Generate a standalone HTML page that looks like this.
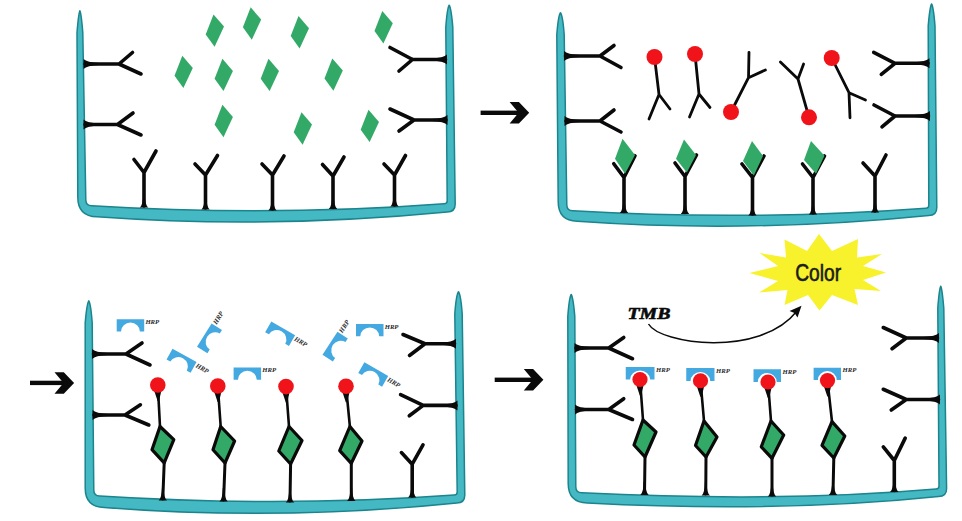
<!DOCTYPE html>
<html><head><meta charset="utf-8"><title>ELISA</title>
<style>
html,body{margin:0;padding:0;background:#fff;}
body{width:962px;height:521px;overflow:hidden;}
svg{display:block;}
.hrp{font-family:"Liberation Serif",serif;font-weight:bold;font-style:italic;font-size:6.7px;fill:#2a2a2a;}
.color{font-family:"Liberation Sans",sans-serif;font-size:24px;fill:#1a1a1a;stroke:#1a1a1a;stroke-width:0.6px;}
.tmb{font-family:"Liberation Serif",serif;font-weight:bold;font-style:italic;font-size:17px;fill:#0a0a0a;stroke:#0a0a0a;stroke-width:0.6px;}
</style></head><body>
<svg width="962" height="521" viewBox="0 0 962 521">
<rect width="962" height="521" fill="#ffffff"/>
<path d="M79.9,10.8 Q78.5,13.8 77.0,32.8 L77.8,197.2 Q77.8,216.2 96.8,216.8 Q270.0,229.3 447.2,212.1 Q455.2,212.1 455.2,204.1 L452.8,27.2 Q451.2,8.2 449.2,5.2 Q447.2,8.2 445.8,27.2 L447.2,200.8 Q447.2,203.8 444.2,203.8 Q270.0,216.8 91.8,205.8 Q85.8,205.8 85.8,199.8 L82.8,32.8 Q81.3,13.8 79.9,10.8 Z" fill="#44b8c3" stroke="#1c848d" stroke-width="1.5" stroke-linejoin="round"/>
<polygon points="213.5,14.4 224.0,26.6 214.6,46.8 205.7,34.4" fill="#33a968"/>
<polygon points="250.7,7.3 261.2,19.5 251.8,39.7 242.9,27.3" fill="#33a968"/>
<polygon points="298.5,16.0 309.0,28.2 299.6,48.4 290.7,36.0" fill="#33a968"/>
<polygon points="382.3,11.0 392.8,23.2 383.4,43.4 374.5,31.0" fill="#33a968"/>
<polygon points="182.3,55.7 192.8,67.9 183.4,88.1 174.5,75.7" fill="#33a968"/>
<polygon points="222.4,58.7 232.9,70.9 223.5,91.1 214.6,78.7" fill="#33a968"/>
<polygon points="268.5,58.7 279.0,70.9 269.6,91.1 260.7,78.7" fill="#33a968"/>
<polygon points="332.3,58.4 342.8,70.6 333.4,90.8 324.5,78.4" fill="#33a968"/>
<polygon points="222.4,104.8 232.9,117.0 223.5,137.2 214.6,124.8" fill="#33a968"/>
<polygon points="301.5,112.3 312.0,124.5 302.6,144.7 293.7,132.3" fill="#33a968"/>
<polygon points="368.5,109.7 379.0,121.9 369.6,142.1 360.7,129.7" fill="#33a968"/>
<path d="M85,64 L119,64 L132.5,52.5 M119,64 L141,74" fill="none" stroke="#0a0a0a" stroke-width="3.6" stroke-linecap="round" stroke-linejoin="round"/>
<path d="M83.5,59 Q87,62.4 99,63 L99,65 Q87,65.6 83.5,69 Z" fill="#0a0a0a"/>
<path d="M85,124.5 L117.5,124.5 L133,113 M117.5,124.5 L141,135" fill="none" stroke="#0a0a0a" stroke-width="3.6" stroke-linecap="round" stroke-linejoin="round"/>
<path d="M83.5,119.5 Q87,122.9 99,123.5 L99,125.5 Q87,126.1 83.5,129.5 Z" fill="#0a0a0a"/>
<path d="M445.5,59.5 L412.5,59.5 L390,47.5 M412.5,59.5 L399,71" fill="none" stroke="#0a0a0a" stroke-width="3.6" stroke-linecap="round" stroke-linejoin="round"/>
<path d="M447.0,54.5 Q443.5,57.9 431.5,58.5 L431.5,60.5 Q443.5,61.1 447.0,64.5 Z" fill="#0a0a0a"/>
<path d="M446,120 L414,120 L390,109 M414,120 L399,131" fill="none" stroke="#0a0a0a" stroke-width="3.6" stroke-linecap="round" stroke-linejoin="round"/>
<path d="M447.5,115 Q444,118.4 432,119 L432,121 Q444,121.6 447.5,125 Z" fill="#0a0a0a"/>
<path d="M144,206 L144,172.5 L134,159.5 M144,172.5 L156,151" fill="none" stroke="#0a0a0a" stroke-width="3.6" stroke-linecap="round" stroke-linejoin="round"/>
<path d="M139.8,207.5 Q143,205 143.2,194 L144.8,194 Q145,205 148.2,207.5 Z" fill="#0a0a0a"/>
<path d="M205.5,208 L205.5,175 L195,164 M205.5,175 L217.5,155.5" fill="none" stroke="#0a0a0a" stroke-width="3.6" stroke-linecap="round" stroke-linejoin="round"/>
<path d="M201.3,209.5 Q204.5,207 204.7,196 L206.3,196 Q206.5,207 209.7,209.5 Z" fill="#0a0a0a"/>
<path d="M272.5,209 L272.5,175 L262,164 M272.5,175 L284,156" fill="none" stroke="#0a0a0a" stroke-width="3.6" stroke-linecap="round" stroke-linejoin="round"/>
<path d="M268.3,210.5 Q271.5,208 271.7,197 L273.3,197 Q273.5,208 276.7,210.5 Z" fill="#0a0a0a"/>
<path d="M333,207.5 L333,176 L322.5,164.5 M333,176 L344,157" fill="none" stroke="#0a0a0a" stroke-width="3.6" stroke-linecap="round" stroke-linejoin="round"/>
<path d="M328.8,209.0 Q332,206.5 332.2,195.5 L333.8,195.5 Q334,206.5 337.2,209.0 Z" fill="#0a0a0a"/>
<path d="M394.5,205 L394.5,175 L384,164 M394.5,175 L405.5,155.5" fill="none" stroke="#0a0a0a" stroke-width="3.6" stroke-linecap="round" stroke-linejoin="round"/>
<path d="M390.3,206.5 Q393.5,204 393.7,193 L395.3,193 Q395.5,204 398.7,206.5 Z" fill="#0a0a0a"/>
<rect x="480.6" y="110.6" width="39.60000000000002" height="4.4" fill="#0a0a0a"/>
<polygon points="509.6,102.1 518.9,102.1 529.2,112.8 518.9,123.6 509.6,123.6 518.6,112.8" fill="#0a0a0a"/>
<path d="M560.5,12.8 Q558.2,15.8 556.8,34.8 L558.2,201.8 Q558.2,220.8 577.2,221.2 Q750.0,233.4 928.8,215.4 Q936.8,215.4 936.8,207.4 L935.0,26.1 Q933.5,7.0 931.6,4.0 Q929.8,7.0 928.2,26.1 L928.8,205.2 Q928.8,208.2 925.8,208.2 Q750.0,221.1 572.8,210.8 Q566.8,210.8 566.8,204.8 L564.2,34.8 Q562.8,15.8 560.5,12.8 Z" fill="#44b8c3" stroke="#1c848d" stroke-width="1.5" stroke-linejoin="round"/>
<path d="M565.5,56 L600,56 L614,45.5 M600,56 L621,67.5" fill="none" stroke="#0a0a0a" stroke-width="3.6" stroke-linecap="round" stroke-linejoin="round"/>
<path d="M564.0,51 Q567.5,54.4 579.5,55 L579.5,57 Q567.5,57.6 564.0,61 Z" fill="#0a0a0a"/>
<path d="M566,121 L600,121 L614,110 M600,121 L621,132" fill="none" stroke="#0a0a0a" stroke-width="3.6" stroke-linecap="round" stroke-linejoin="round"/>
<path d="M564.5,116 Q568,119.4 580,120 L580,122 Q568,122.6 564.5,126 Z" fill="#0a0a0a"/>
<path d="M928,63.3 L895,63.3 L873.7,52.3 M895,63.3 L881.3,74.4" fill="none" stroke="#0a0a0a" stroke-width="3.6" stroke-linecap="round" stroke-linejoin="round"/>
<path d="M929.5,58.3 Q926,61.699999999999996 914,62.3 L914,64.3 Q926,64.89999999999999 929.5,68.3 Z" fill="#0a0a0a"/>
<path d="M928.5,116 L895,116 L874,105 M895,116 L882,126.8" fill="none" stroke="#0a0a0a" stroke-width="3.6" stroke-linecap="round" stroke-linejoin="round"/>
<path d="M930.0,111 Q926.5,114.4 914.5,115 L914.5,117 Q926.5,117.6 930.0,121 Z" fill="#0a0a0a"/>
<path d="M654.5,57 L659,94.5 L649,119 M659,94.5 L670,109" fill="none" stroke="#0a0a0a" stroke-width="2.8" stroke-linecap="round" stroke-linejoin="round"/>
<circle cx="654.5" cy="57" r="8.0" fill="#f0141a"/>
<path d="M695,54 L699,94 L689.5,117 M699,94 L710,107.5" fill="none" stroke="#0a0a0a" stroke-width="2.8" stroke-linecap="round" stroke-linejoin="round"/>
<circle cx="695" cy="54" r="8.0" fill="#f0141a"/>
<path d="M731,112 L748.5,77.7 L749,52.3 M748.5,77.7 L765.4,70" fill="none" stroke="#0a0a0a" stroke-width="2.8" stroke-linecap="round" stroke-linejoin="round"/>
<circle cx="731" cy="112" r="8.0" fill="#f0141a"/>
<path d="M809,117.3 L798,79 L780.4,62 M798,79 L803.6,64" fill="none" stroke="#0a0a0a" stroke-width="2.8" stroke-linecap="round" stroke-linejoin="round"/>
<circle cx="809" cy="117.3" r="8.0" fill="#f0141a"/>
<path d="M831.7,58 L849,92.7 L865.5,100 M849,92.7 L850,117.8" fill="none" stroke="#0a0a0a" stroke-width="2.8" stroke-linecap="round" stroke-linejoin="round"/>
<circle cx="831.7" cy="58" r="8.0" fill="#f0141a"/>
<path d="M624,211.5 L624,177.5 L613.75,163.75 M624,177.5 L635,155.75" fill="none" stroke="#0a0a0a" stroke-width="3.6" stroke-linecap="round" stroke-linejoin="round"/>
<path d="M619.8,213.0 Q623,210.5 623.2,199.5 L624.8,199.5 Q625,210.5 628.2,213.0 Z" fill="#0a0a0a"/>
<polygon points="622.5,138.8 635.0,155.0 625.0,173.8 615.0,158.8" fill="#33a968"/>
<path d="M685,212.5 L685,176.5 L675,163 M685,176.5 L696.5,155" fill="none" stroke="#0a0a0a" stroke-width="3.6" stroke-linecap="round" stroke-linejoin="round"/>
<path d="M680.8,214.0 Q684,211.5 684.2,200.5 L685.8,200.5 Q686,211.5 689.2,214.0 Z" fill="#0a0a0a"/>
<polygon points="684.0,139.5 696.0,155.0 686.8,172.5 676.0,158.8" fill="#33a968"/>
<path d="M752.5,214 L752.5,177.5 L742,164 M752.5,177.5 L764,156" fill="none" stroke="#0a0a0a" stroke-width="3.6" stroke-linecap="round" stroke-linejoin="round"/>
<path d="M748.3,215.5 Q751.5,213 751.7,202 L753.3,202 Q753.5,213 756.7,215.5 Z" fill="#0a0a0a"/>
<polygon points="752.0,141.0 763.0,156.0 753.8,175.5 743.0,161.0" fill="#33a968"/>
<path d="M813,213 L813,177.5 L802.5,164 M813,177.5 L824.5,156" fill="none" stroke="#0a0a0a" stroke-width="3.6" stroke-linecap="round" stroke-linejoin="round"/>
<path d="M808.8,214.5 Q812,212 812.2,201 L813.8,201 Q814,212 817.2,214.5 Z" fill="#0a0a0a"/>
<polygon points="811.0,141.0 824.5,155.8 816.0,173.8 804.0,160.0" fill="#33a968"/>
<path d="M875,211 L875,176 L863,163 M875,176 L886,155" fill="none" stroke="#0a0a0a" stroke-width="3.6" stroke-linecap="round" stroke-linejoin="round"/>
<path d="M870.8,212.5 Q874,210 874.2,199 L875.8,199 Q876,210 879.2,212.5 Z" fill="#0a0a0a"/>
<rect x="30" y="380.7" width="35.099999999999994" height="4.4" fill="#0a0a0a"/>
<polygon points="54.5,372.2 63.8,372.2 74.1,382.9 63.8,393.7 54.5,393.7 63.5,382.9" fill="#0a0a0a"/>
<path d="M88.8,300.8 Q86.8,303.8 85.2,322.8 L85.2,487.9 Q85.2,506.9 104.2,507.4 Q280.0,521.2 456.8,502.9 Q464.8,502.9 464.8,494.9 L462.2,313.8 Q460.8,294.8 458.5,291.8 Q456.2,294.8 454.8,313.8 L457.2,492.1 Q457.2,495.1 454.2,495.1 Q280.0,507.6 99.8,496.1 Q93.8,496.1 93.8,490.1 L92.2,322.8 Q90.8,303.8 88.8,300.8 Z" fill="#44b8c3" stroke="#1c848d" stroke-width="1.5" stroke-linejoin="round"/>
<path d="M93.5,354 L126,354 L142,343 M126,354 L150,365" fill="none" stroke="#0a0a0a" stroke-width="3.6" stroke-linecap="round" stroke-linejoin="round"/>
<path d="M92.0,349 Q95.5,352.4 107.5,353 L107.5,355 Q95.5,355.6 92.0,359 Z" fill="#0a0a0a"/>
<path d="M94,415 L125,415 L140.4,404.8 M125,415 L148.8,425" fill="none" stroke="#0a0a0a" stroke-width="3.6" stroke-linecap="round" stroke-linejoin="round"/>
<path d="M92.5,410 Q96,413.4 108,414 L108,416 Q96,416.6 92.5,420 Z" fill="#0a0a0a"/>
<path d="M454.5,343.75 L425,343.75 L403,334.5 M425,343.75 L409.5,355.5" fill="none" stroke="#0a0a0a" stroke-width="3.6" stroke-linecap="round" stroke-linejoin="round"/>
<path d="M456.0,338.75 Q452.5,342.15 440.5,342.75 L440.5,344.75 Q452.5,345.35 456.0,348.75 Z" fill="#0a0a0a"/>
<path d="M456,405.4 L423.2,405.4 L400.6,394.6 M423.2,405.4 L409.3,415.8" fill="none" stroke="#0a0a0a" stroke-width="3.6" stroke-linecap="round" stroke-linejoin="round"/>
<path d="M457.5,400.4 Q454,403.79999999999995 442,404.4 L442,406.4 Q454,407.0 457.5,410.4 Z" fill="#0a0a0a"/>
<path d="M412.2,496 L412.2,464.2 L401.4,452.6 M412.2,464.2 L423,444.8" fill="none" stroke="#0a0a0a" stroke-width="3.6" stroke-linecap="round" stroke-linejoin="round"/>
<path d="M408.0,497.5 Q411.2,495 411.4,484 L413.0,484 Q413.2,495 416.4,497.5 Z" fill="#0a0a0a"/>
<g transform="translate(116.7,319.2) rotate(0)"><path d="M0,0 H27.5 V12.3 H23.2 A9.45,8.9 0 0 0 4.3,12.3 H0 Z" fill="#45a9e1"/><text x="28.7" y="5" class="hrp">HRP</text></g>
<g transform="translate(172.5,348.7) rotate(29)"><path d="M0,0 H27.5 V12.3 H23.2 A9.45,8.9 0 0 0 4.3,12.3 H0 Z" fill="#45a9e1"/><text x="28.7" y="5" class="hrp">HRP</text></g>
<g transform="translate(197,346.7) rotate(-58)"><path d="M0,0 H27.5 V12.3 H23.2 A9.45,8.9 0 0 0 4.3,12.3 H0 Z" fill="#45a9e1"/><text x="28.7" y="5" class="hrp">HRP</text></g>
<g transform="translate(233.6,367.4) rotate(0)"><path d="M0,0 H27.5 V12.3 H23.2 A9.45,8.9 0 0 0 4.3,12.3 H0 Z" fill="#45a9e1"/><text x="28.7" y="5" class="hrp">HRP</text></g>
<g transform="translate(271.3,321.5) rotate(30)"><path d="M0,0 H27.5 V12.3 H23.2 A9.45,8.9 0 0 0 4.3,12.3 H0 Z" fill="#45a9e1"/><text x="28.7" y="5" class="hrp">HRP</text></g>
<g transform="translate(322.5,354.8) rotate(-57)"><path d="M0,0 H27.5 V12.3 H23.2 A9.45,8.9 0 0 0 4.3,12.3 H0 Z" fill="#45a9e1"/><text x="28.7" y="5" class="hrp">HRP</text></g>
<g transform="translate(356,324) rotate(0)"><path d="M0,0 H27.5 V12.3 H23.2 A9.45,8.9 0 0 0 4.3,12.3 H0 Z" fill="#45a9e1"/><text x="28.7" y="5" class="hrp">HRP</text></g>
<g transform="translate(364.4,362.3) rotate(30)"><path d="M0,0 H27.5 V12.3 H23.2 A9.45,8.9 0 0 0 4.3,12.3 H0 Z" fill="#45a9e1"/><text x="28.7" y="5" class="hrp">HRP</text></g>
<path d="M164.2,462.8 L162.8,499" stroke="#0a0a0a" stroke-width="3" fill="none" stroke-linecap="round"/>
<path d="M158.60000000000002,500.5 Q161.8,498 162.0,487 L163.60000000000002,487 Q163.8,498 167.0,500.5 Z" fill="#0a0a0a"/>
<path d="M157.8,385 L160,426.5" stroke="#0a0a0a" stroke-width="2.6" fill="none" stroke-linecap="round"/>
<path d="M154.3,391 L161.3,391 L159.0,401 L157.60000000000002,401 Z" fill="#0a0a0a"/>
<polygon points="160.0,426.5 173.8,439.6 164.2,462.8 152.0,449.7" fill="#33a968" stroke="#0a0a0a" stroke-width="3.2" stroke-linejoin="round"/>
<circle cx="157.8" cy="385" r="7.8" fill="#f0141a"/>
<path d="M225,463 L223.6,500" stroke="#0a0a0a" stroke-width="3" fill="none" stroke-linecap="round"/>
<path d="M219.4,501.5 Q222.6,499 222.79999999999998,488 L224.4,488 Q224.6,499 227.79999999999998,501.5 Z" fill="#0a0a0a"/>
<path d="M217.8,386 L220.7,426.5" stroke="#0a0a0a" stroke-width="2.6" fill="none" stroke-linecap="round"/>
<path d="M214.3,392 L221.3,392 L219.0,402 L217.60000000000002,402 Z" fill="#0a0a0a"/>
<polygon points="220.7,426.5 234.6,441.0 225.0,463.0 213.0,449.7" fill="#33a968" stroke="#0a0a0a" stroke-width="3.2" stroke-linejoin="round"/>
<circle cx="217.8" cy="386" r="7.8" fill="#f0141a"/>
<path d="M290.6,464 L290,501" stroke="#0a0a0a" stroke-width="3" fill="none" stroke-linecap="round"/>
<path d="M285.8,502.5 Q289,500 289.2,489 L290.8,489 Q291,500 294.2,502.5 Z" fill="#0a0a0a"/>
<path d="M286,386.6 L289,426.5" stroke="#0a0a0a" stroke-width="2.6" fill="none" stroke-linecap="round"/>
<path d="M282.5,392.6 L289.5,392.6 L287.2,402.6 L285.8,402.6 Z" fill="#0a0a0a"/>
<polygon points="289.0,426.5 302.0,440.5 290.6,464.0 278.8,451.0" fill="#33a968" stroke="#0a0a0a" stroke-width="3.2" stroke-linejoin="round"/>
<circle cx="286" cy="386.6" r="7.8" fill="#f0141a"/>
<path d="M351.3,463.3 L351.3,499.5" stroke="#0a0a0a" stroke-width="3" fill="none" stroke-linecap="round"/>
<path d="M347.1,501.0 Q350.3,498.5 350.5,487.5 L352.1,487.5 Q352.3,498.5 355.5,501.0 Z" fill="#0a0a0a"/>
<path d="M346,386.3 L349.9,426.5" stroke="#0a0a0a" stroke-width="2.6" fill="none" stroke-linecap="round"/>
<path d="M342.5,392.3 L349.5,392.3 L347.2,402.3 L345.8,402.3 Z" fill="#0a0a0a"/>
<polygon points="349.9,426.5 362.0,441.0 351.3,463.3 339.7,450.6" fill="#33a968" stroke="#0a0a0a" stroke-width="3.2" stroke-linejoin="round"/>
<circle cx="346" cy="386.3" r="7.8" fill="#f0141a"/>
<rect x="494.7" y="377.6" width="39.69999999999999" height="4.4" fill="#0a0a0a"/>
<polygon points="523.8,369.1 533.1,369.1 543.4,379.8 533.1,390.6 523.8,390.6 532.8,379.8" fill="#0a0a0a"/>
<path d="M571.2,294.5 Q569.2,297.5 567.8,316.5 L568.2,483.6 Q568.2,502.6 587.2,503.1 Q780.0,513.0 938.6,496.6 Q946.6,496.6 946.6,488.6 L943.8,308.2 Q942.2,289.2 940.8,286.2 Q939.2,289.2 937.8,308.2 L939.0,486.1 Q939.0,489.1 936.0,489.1 Q780.0,502.6 581.8,492.8 Q575.8,492.8 575.8,486.8 L574.8,316.5 Q573.2,297.5 571.2,294.5 Z" fill="#44b8c3" stroke="#1c848d" stroke-width="1.5" stroke-linejoin="round"/>
<path d="M576,348 L608.75,348 L623.75,337.5 M608.75,348 L632.5,358.75" fill="none" stroke="#0a0a0a" stroke-width="3.6" stroke-linecap="round" stroke-linejoin="round"/>
<path d="M574.5,343 Q578,346.4 590,347 L590,349 Q578,349.6 574.5,353 Z" fill="#0a0a0a"/>
<path d="M576.5,409.5 L608.75,409.5 L623.75,398.75 M608.75,409.5 L632.5,419.5" fill="none" stroke="#0a0a0a" stroke-width="3.6" stroke-linecap="round" stroke-linejoin="round"/>
<path d="M575.0,404.5 Q578.5,407.9 590.5,408.5 L590.5,410.5 Q578.5,411.1 575.0,414.5 Z" fill="#0a0a0a"/>
<path d="M937.5,338 L906.25,338 L883.25,327.5 M906.25,338 L892,348.75" fill="none" stroke="#0a0a0a" stroke-width="3.6" stroke-linecap="round" stroke-linejoin="round"/>
<path d="M939.0,333 Q935.5,336.4 923.5,337 L923.5,339 Q935.5,339.6 939.0,343 Z" fill="#0a0a0a"/>
<path d="M938.5,399.5 L906.25,399.5 L883.25,389.25 M906.25,399.5 L891.25,410" fill="none" stroke="#0a0a0a" stroke-width="3.6" stroke-linecap="round" stroke-linejoin="round"/>
<path d="M940.0,394.5 Q936.5,397.9 924.5,398.5 L924.5,400.5 Q936.5,401.1 940.0,404.5 Z" fill="#0a0a0a"/>
<path d="M894.3,490.5 L894.3,460.5 L883.3,446.8 M894.3,460.5 L905.2,438.1" fill="none" stroke="#0a0a0a" stroke-width="3.6" stroke-linecap="round" stroke-linejoin="round"/>
<path d="M890.0999999999999,492.0 Q893.3,489.5 893.5,478.5 L895.0999999999999,478.5 Q895.3,489.5 898.5,492.0 Z" fill="#0a0a0a"/>
<path d="M645,457 L644.5,493.5" stroke="#0a0a0a" stroke-width="3" fill="none" stroke-linecap="round"/>
<path d="M640.3,495.0 Q643.5,492.5 643.7,481.5 L645.3,481.5 Q645.5,492.5 648.7,495.0 Z" fill="#0a0a0a"/>
<path d="M640,379.5 L643,420" stroke="#0a0a0a" stroke-width="2.6" fill="none" stroke-linecap="round"/>
<path d="M636.5,385.5 L643.5,385.5 L641.2,395.5 L639.8,395.5 Z" fill="#0a0a0a"/>
<polygon points="643.0,420.0 656.0,432.0 645.0,457.0 634.0,445.0" fill="#33a968" stroke="#0a0a0a" stroke-width="3.2" stroke-linejoin="round"/>
<path d="M625.75,367 h28.75 v12.5 h-4.3 a10.07,8.9 0 0 0 -20.15,0 h-4.3 Z" fill="#45a9e1"/>
<text x="656.0" y="371.6" class="hrp">HRP</text>
<circle cx="640" cy="379.5" r="7.6" fill="#f0141a"/>
<path d="M706,457 L705.75,494" stroke="#0a0a0a" stroke-width="3" fill="none" stroke-linecap="round"/>
<path d="M701.55,495.5 Q704.75,493 704.95,482 L706.55,482 Q706.75,493 709.95,495.5 Z" fill="#0a0a0a"/>
<path d="M700.5,380.75 L704,421" stroke="#0a0a0a" stroke-width="2.6" fill="none" stroke-linecap="round"/>
<path d="M697.0,386.75 L704.0,386.75 L701.7,396.75 L700.3,396.75 Z" fill="#0a0a0a"/>
<polygon points="704.0,421.0 717.0,437.0 706.0,457.0 695.5,445.5" fill="#33a968" stroke="#0a0a0a" stroke-width="3.2" stroke-linejoin="round"/>
<path d="M686.25,368 h28.25 v13 h-4.3 a9.82,8.9 0 0 0 -19.65,0 h-4.3 Z" fill="#45a9e1"/>
<text x="716.0" y="372.6" class="hrp">HRP</text>
<circle cx="700.5" cy="380.75" r="7.6" fill="#f0141a"/>
<path d="M772,458.3 L772,495" stroke="#0a0a0a" stroke-width="3" fill="none" stroke-linecap="round"/>
<path d="M767.8,496.5 Q771,494 771.2,483 L772.8,483 Q773,494 776.2,496.5 Z" fill="#0a0a0a"/>
<path d="M768,382 L771,421" stroke="#0a0a0a" stroke-width="2.6" fill="none" stroke-linecap="round"/>
<path d="M764.5,388 L771.5,388 L769.2,398 L767.8,398 Z" fill="#0a0a0a"/>
<polygon points="771.0,421.0 783.7,435.0 772.0,458.3 761.3,446.8" fill="#33a968" stroke="#0a0a0a" stroke-width="3.2" stroke-linejoin="round"/>
<path d="M753.5,369.3 h27.5 v12.7 h-4.3 a9.45,8.9 0 0 0 -18.90,0 h-4.3 Z" fill="#45a9e1"/>
<text x="782.5" y="373.90000000000003" class="hrp">HRP</text>
<circle cx="768" cy="382" r="7.6" fill="#f0141a"/>
<path d="M833.8,458 L833,493.5" stroke="#0a0a0a" stroke-width="3" fill="none" stroke-linecap="round"/>
<path d="M828.8,495.0 Q832,492.5 832.2,481.5 L833.8,481.5 Q834,492.5 837.2,495.0 Z" fill="#0a0a0a"/>
<path d="M827.5,380.6 L832,421.6" stroke="#0a0a0a" stroke-width="2.6" fill="none" stroke-linecap="round"/>
<path d="M824.0,386.6 L831.0,386.6 L828.7,396.6 L827.3,396.6 Z" fill="#0a0a0a"/>
<polygon points="832.0,421.6 844.8,436.0 833.8,458.0 822.0,445.4" fill="#33a968" stroke="#0a0a0a" stroke-width="3.2" stroke-linejoin="round"/>
<path d="M813.6,367.7 h27.4 v12.3 h-4.3 a9.40,8.9 0 0 0 -18.80,0 h-4.3 Z" fill="#45a9e1"/>
<text x="842.5" y="372.3" class="hrp">HRP</text>
<circle cx="827.5" cy="380.6" r="7.6" fill="#f0141a"/>
<polygon points="819,234 832,251 858,239 857,257.5 882,254 863,266 886,272.5 863,280 881,291 854.5,289 858,305 832,295 819.5,310.5 808,295 784.5,305 787.5,290 759,292.5 778,281 749.5,273 778,266 759.5,253 786,257.5 784.5,239.5 807,251" fill="#f7f22c"/>
<text transform="translate(795.2,280.8) scale(0.80,1)" class="color">Color</text>
<text x="627.5" y="319.3" class="tmb" textLength="43" lengthAdjust="spacingAndGlyphs">TMB</text>
<path d="M648.5,324 C660,344 760,358 797,311" fill="none" stroke="#0a0a0a" stroke-width="1.5"/>
<path d="M801.5,305.7 L797.5,317.5 L794.5,313 L789.5,311 Z" fill="#0a0a0a"/>
</svg>
</body></html>
